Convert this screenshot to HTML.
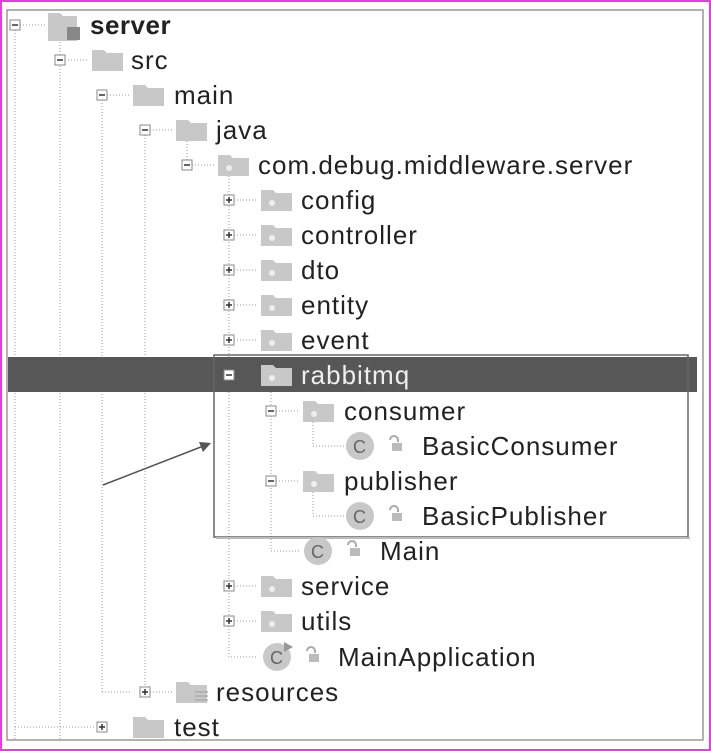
<!DOCTYPE html><html><head><style>body{margin:0;background:#fff}svg{display:block}text{font-family:"Liberation Sans",sans-serif;font-size:26px;letter-spacing:1px;fill:#222}</style></head><body>
<svg width="711" height="751" xmlns="http://www.w3.org/2000/svg">
<defs>
<g id="fold"><path d="M0,-10 h12 l3,3 h16 v18 h-31z" fill="#c8c8c8"/></g>
<g id="pfold"><path d="M0,-10 h12 l3,3 h16 v18 h-31z" fill="#c8c8c8"/><circle cx="11" cy="3" r="3" fill="#eee"/></g>
<g id="minus"><rect x="-5" y="-5" width="10" height="10" fill="#fff" stroke="#888"/><line x1="-3" y1="0" x2="3" y2="0" stroke="#333" stroke-width="1.5"/></g>
<g id="plus"><rect x="-5" y="-5" width="10" height="10" fill="#fff" stroke="#888"/><line x1="-3" y1="0" x2="3" y2="0" stroke="#333" stroke-width="1.5"/><line x1="0" y1="-3" x2="0" y2="3" stroke="#333" stroke-width="1.5"/></g>
<g id="cls"><circle r="14" fill="#c8c8c8"/><text x="-7" y="7" style="font-size:18px;letter-spacing:0;fill:#666">C</text><path d="M30,-6 a4,4 0 0 1 8,0 v2" fill="none" stroke="#aaa" stroke-width="2"/><rect x="32" y="-3" width="10" height="8" fill="#bbb"/></g>
</defs>
<rect x="1" y="1" width="709" height="749" fill="none" stroke="#e040e0" stroke-width="2"/>
<rect x="7" y="10" width="696" height="730" fill="none" stroke="#999" stroke-width="1.5"/>
<g stroke="#999" stroke-dasharray="1,2" fill="none">
<path d="M15,30 V740 M15,727 H95"/>
<path d="M20,25 H45 M60,30 V740"/>
<path d="M65,60 H88 M102,100 V692 M102,692 H130"/>
<path d="M107,95 H130 M145,135 V692 M150,692 H172"/>
<path d="M150,130 H172 M187,135 V165"/>
<path d="M192,165 H215 M229,170 V657 H258"/>
<path d="M234,200 H258 M234,235 H258 M234,270 H258 M234,305 H258 M234,340 H258 M234,586 H258 M234,621 H258"/>
<path d="M271,380 V551 H300 M276,411 H300 M276,481 H300 M313,416 V446 H344 M313,486 V516 H344"/>
</g>
<rect x="8" y="357" width="689" height="35" fill="#575757"/>
<rect x="214" y="355" width="474" height="182" fill="none" stroke="#666" stroke-width="1.5"/>
<line x1="216" y1="538" x2="690" y2="538" stroke="#bbb" stroke-width="2"/>
<line x1="103" y1="485" x2="206" y2="445" stroke="#555" stroke-width="1.5"/>
<path d="M211,443 L199,442 L203,452z" fill="#555"/>
<use href="#minus" x="15" y="25"/><path d="M48,13 h12 l3,3 h14 v25 h-29z" fill="#c8c8c8"/><rect x="67" y="27" width="13" height="13" fill="#888"/><text x="90" y="34" style="font-weight:bold;letter-spacing:0.5px">server</text>
<use href="#minus" x="60" y="60"/><use href="#fold" x="92" y="60"/><text x="131" y="69">src</text>
<use href="#minus" x="102" y="95"/><use href="#fold" x="133" y="95"/><text x="174" y="104">main</text>
<use href="#minus" x="145" y="130"/><use href="#fold" x="176" y="130"/><text x="216" y="139">java</text>
<use href="#minus" x="187" y="165"/><use href="#pfold" x="218" y="165"/><text x="258" y="174">com.debug.middleware.server</text>
<use href="#plus" x="229" y="200"/><use href="#pfold" x="261" y="200"/><text x="301" y="209">config</text>
<use href="#plus" x="229" y="235"/><use href="#pfold" x="261" y="235"/><text x="301" y="244">controller</text>
<use href="#plus" x="229" y="270"/><use href="#pfold" x="261" y="270"/><text x="301" y="279">dto</text>
<use href="#plus" x="229" y="305"/><use href="#pfold" x="261" y="305"/><text x="301" y="314">entity</text>
<use href="#plus" x="229" y="340"/><use href="#pfold" x="261" y="340"/><text x="301" y="349">event</text>
<use href="#minus" x="229" y="375"/><use href="#pfold" x="261" y="375"/><text x="301" y="384" style="fill:#eee">rabbitmq</text>
<use href="#minus" x="271" y="411"/><use href="#pfold" x="303" y="411"/><text x="344" y="420">consumer</text>
<use href="#cls" x="360" y="446"/><text x="422" y="455">BasicConsumer</text>
<use href="#minus" x="271" y="481"/><use href="#pfold" x="303" y="481"/><text x="344" y="490">publisher</text>
<use href="#cls" x="360" y="516"/><text x="422" y="525">BasicPublisher</text>
<use href="#cls" x="318" y="551"/><text x="380" y="560">Main</text>
<use href="#plus" x="229" y="586"/><use href="#pfold" x="261" y="586"/><text x="301" y="595">service</text>
<use href="#plus" x="229" y="621"/><use href="#pfold" x="261" y="621"/><text x="301" y="630">utils</text>
<use href="#cls" x="277" y="657"/><path d="M284,642 l9,5 l-9,5z" fill="#999"/><text x="338" y="666">MainApplication</text>
<use href="#plus" x="145" y="692"/><use href="#fold" x="176" y="692"/><g stroke="#aaa" stroke-width="1.5"><line x1="195" y1="692" x2="208" y2="692"/><line x1="195" y1="696" x2="208" y2="696"/><line x1="195" y1="700" x2="208" y2="700"/></g><text x="216" y="701">resources</text>
<use href="#plus" x="102" y="727"/><use href="#fold" x="133" y="727"/><text x="174" y="736">test</text>
</svg></body></html>
